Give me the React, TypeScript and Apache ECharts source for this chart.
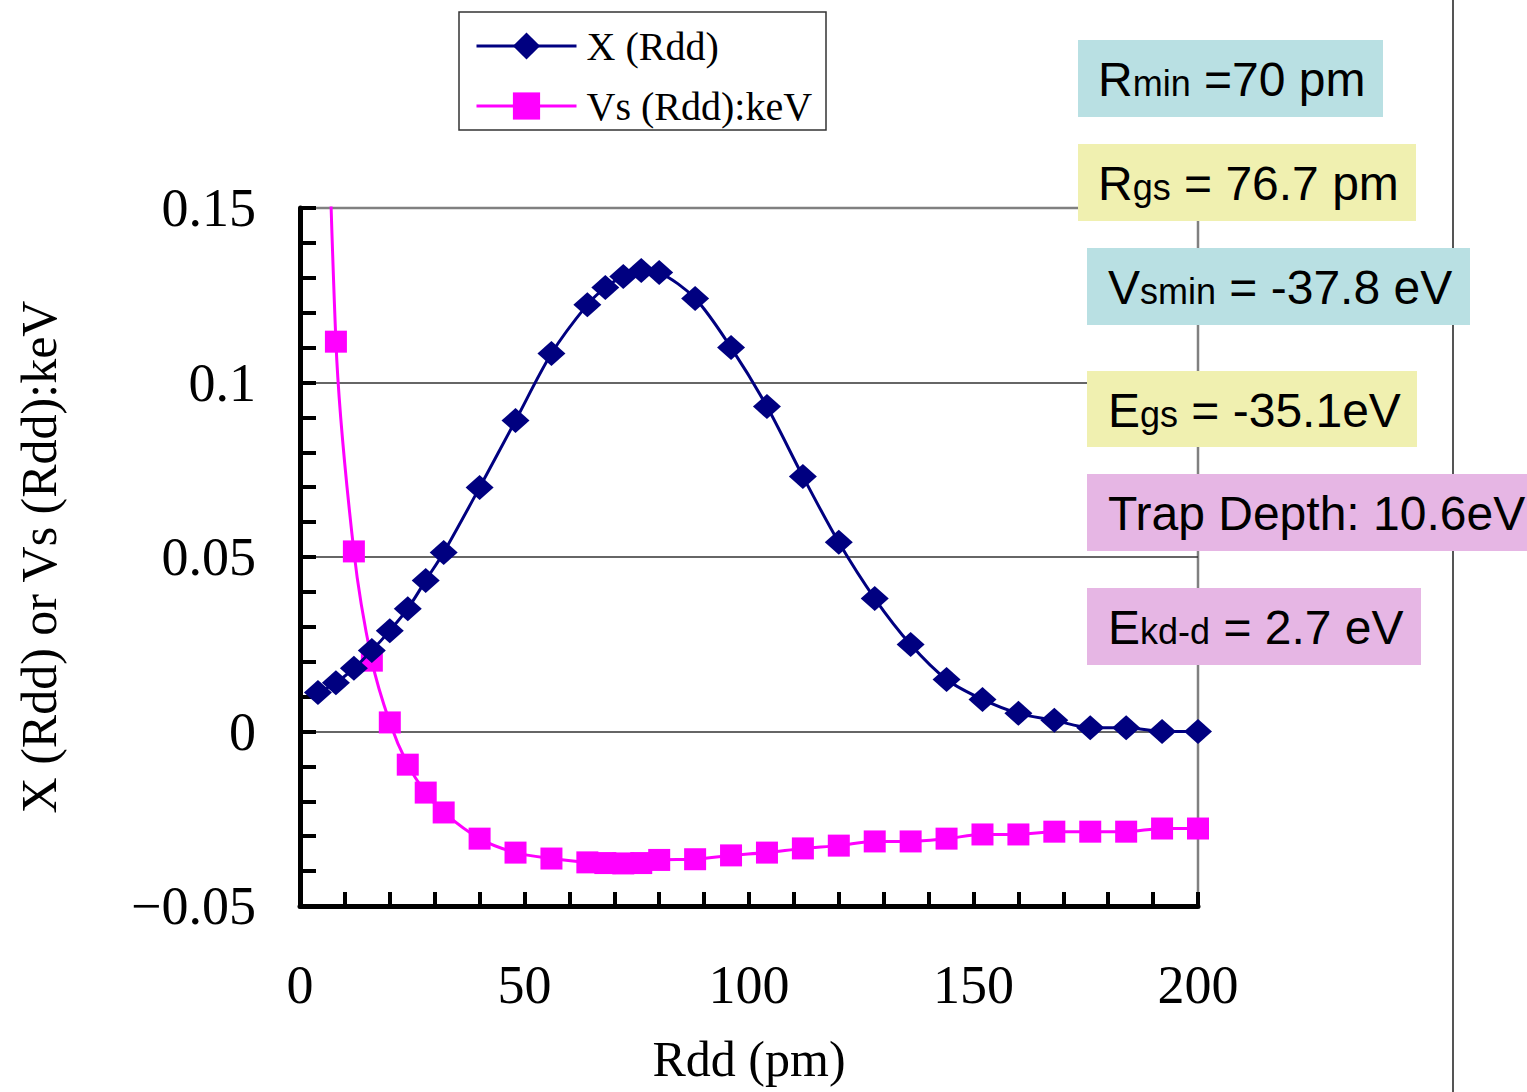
import React, { useEffect, useRef } from "react";
import * as echarts from "echarts";

const rddValues = [4, 8, 12, 16, 20, 24, 28, 32, 40, 48, 56, 64, 68, 72, 76, 80, 88, 96, 104, 112, 120, 128, 136, 144, 152, 160, 168, 176, 184, 192, 200];
const chiValues = [0.0112, 0.014, 0.0181, 0.0232, 0.0289, 0.0352, 0.0433, 0.0513, 0.0699, 0.0891, 0.1083, 0.1223, 0.1272, 0.1304, 0.1321, 0.1315, 0.1241, 0.11, 0.0931, 0.0731, 0.0542, 0.0381, 0.0249, 0.0149, 0.0092, 0.0052, 0.0032, 0.0011, 0.0011, 0.0, 0.0];
const vsValues = [0.3, 0.1117, 0.0516, 0.0203, 0.0026, -0.0095, -0.0175, -0.0232, -0.0307, -0.0347, -0.0364, -0.0375, -0.0377, -0.0378, -0.0377, -0.0368, -0.0366, -0.0355, -0.0347, -0.0335, -0.0327, -0.0315, -0.0315, -0.0307, -0.0295, -0.0295, -0.0287, -0.0287, -0.0287, -0.0278, -0.0278];

const seriesNames = ["X (Rdd)", "Vs (Rdd):keV"];
const xAxisTitle = "Rdd (pm)";
const yAxisTitle = "X (Rdd) or Vs (Rdd):keV";

type Note = { main: string; sub: string; rest: string; color: string };
const notes: Note[] = [
  { main: "R", sub: "min", rest: " =70 pm", color: "#b9e0e3" },
  { main: "R", sub: "gs", rest: " = 76.7 pm", color: "#f0f0b0" },
  { main: "V", sub: "smin", rest: " = -37.8 eV", color: "#b9e0e3" },
  { main: "E", sub: "gs", rest: " = -35.1eV", color: "#f0f0b0" },
  { main: "Trap Depth: 10.6eV", sub: "", rest: "", color: "#e6b6e4" },
  { main: "E", sub: "kd-d", rest: " = 2.7 eV", color: "#e6b6e4" },
];
const noteBoxes = [
  [1078, 40, 305, 77, 1098],
  [1078, 144, 338, 77, 1098],
  [1087, 248, 383, 77, 1108],
  [1087, 371, 330, 76, 1108],
  [1087, 474, 440, 77, 1108],
  [1087, 588, 334, 77, 1108],
];

export default function App() {
  const ref = useRef<HTMLDivElement>(null);
  useEffect(() => {
    document.body.style.margin = "0";
    const chart = echarts.init(ref.current!, null, { renderer: "svg" });
    const serif = "Liberation Serif";
    const graphics: any[] = [
      { type: "line", z: 1, shape: { x1: 1453, y1: 0, x2: 1453, y2: 1092 }, style: { stroke: "#555", lineWidth: 2 } },
      { type: "rect", z: 1, shape: { x: 459, y: 12, width: 367, height: 118 }, style: { fill: "#fff", stroke: "#333", lineWidth: 1.5 } },
    ];
    notes.forEach((n, i) => {
      const [bx, by, bw, bh, tx] = noteBoxes[i];
      graphics.push({ type: "rect", z: 10, shape: { x: bx, y: by, width: bw, height: bh }, style: { fill: n.color } });
      const text = n.sub ? `{a|${n.main}}{b|${n.sub}}{a|${n.rest}}` : `{a|${n.main}}`;
      graphics.push({
        type: "text",
        z: 11,
        x: tx,
        y: by + bh / 2 + 1,
        style: {
          text,
          verticalAlign: "middle",
          align: "left",
          rich: {
            a: { fontFamily: "Liberation Sans", fontSize: 48, lineHeight: 48, fill: "#000", verticalAlign: "bottom" },
            b: { fontFamily: "Liberation Sans", fontSize: 36, lineHeight: 36, fill: "#000", verticalAlign: "bottom", padding: [0, 0, 2, 0] },
          },
        },
      });
    });
    chart.setOption({
      animation: false,
      backgroundColor: "#fff",
      grid: {
        left: 300,
        top: 208,
        width: 898,
        height: 698,
        outerBoundsMode: "none",
        containLabel: false,
        show: true,
        borderColor: "#808080",
        borderWidth: 2.5,
        backgroundColor: "transparent",
      },
      legend: {
        left: 475,
        top: 26,
        orient: "vertical",
        padding: 0,
        itemWidth: 100,
        itemHeight: 34,
        itemGap: 20,
        z: 5,
        lineStyle: { width: 3 },
        textStyle: { fontFamily: serif, fontSize: 40, color: "#000", lineHeight: 40, padding: [0, 0, 0, 5] },
        data: seriesNames,
      },
      xAxis: {
        type: "value",
        min: 0,
        max: 200,
        interval: 50,
        name: xAxisTitle,
        nameLocation: "middle",
        nameGap: 128,
        nameTextStyle: { fontFamily: serif, fontSize: 50, color: "#000" },
        axisLine: { onZero: false, lineStyle: { color: "#000", width: 5 } },
        axisTick: { inside: true, length: 14, lineStyle: { color: "#000", width: 4 } },
        minorTick: { show: true, splitNumber: 5, length: 14, lineStyle: { color: "#000", width: 4 } },
        splitLine: { show: false },
        axisLabel: { fontFamily: serif, fontSize: 54, color: "#000", margin: 52 },
      },
      yAxis: {
        type: "value",
        min: -0.05,
        max: 0.15,
        interval: 0.05,
        name: yAxisTitle,
        nameLocation: "middle",
        nameGap: 236,
        nameRotate: 90,
        nameTextStyle: { fontFamily: serif, fontSize: 50, color: "#000" },
        axisLine: { onZero: false, lineStyle: { color: "#000", width: 5 } },
        axisTick: { inside: true, length: 16, lineStyle: { color: "#000", width: 4 } },
        minorTick: { show: true, splitNumber: 5, length: 16, lineStyle: { color: "#000", width: 4 } },
        splitLine: { show: true, lineStyle: { color: ["#000", "#333", "#333", "#333", "#808080"], width: 1.5 } },
        axisLabel: {
          fontFamily: serif,
          fontSize: 54,
          color: "#000",
          margin: 44,
          padding: [14, 0, 0, 0],
          formatter: (v: number) => {
            const r = Math.round(v * 100) / 100;
            return r < 0 ? "\u2212" + String(-r) : String(r);
          },
        },
      },
      series: [
        {
          name: seriesNames[0],
          type: "line",
          smooth: 0.3,
          symbol: "diamond",
          symbolSize: [28, 25],
          data: rddValues.map((x, i) => [x, chiValues[i]]),
          lineStyle: { color: "#000080", width: 3 },
          itemStyle: { color: "#000080" },
          z: 3,
        },
        {
          name: seriesNames[1],
          type: "line",
          smooth: 0.3,
          symbol: "rect",
          symbolSize: 22,
          clip: true,
          data: rddValues.map((x, i) => [x, vsValues[i]]),
          lineStyle: { color: "#ff00ff", width: 3 },
          itemStyle: { color: "#ff00ff" },
          z: 2,
        },
      ],
      graphic: graphics,
    });
    return () => chart.dispose();
  }, []);
  return <div ref={ref} style={{ width: 1527, height: 1092 }} />;
}
